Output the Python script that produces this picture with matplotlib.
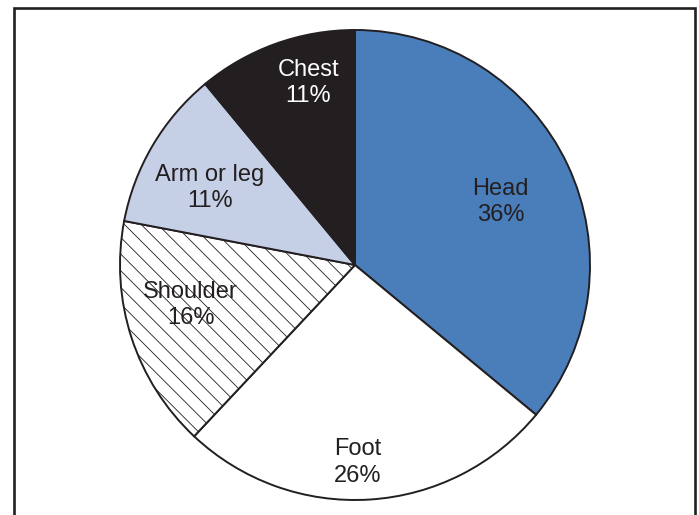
import numpy as np
import matplotlib
matplotlib.use("Agg")
import matplotlib.pyplot as plt
from matplotlib.patches import Rectangle

# datos del grafico (sentido horario desde arriba)
partes = ["Head", "Foot", "Shoulder", "Arm or leg", "Chest"]
porcentajes = [36, 26, 16, 11, 11]

colores = ["#4a7ebb", "#ffffff", "#ffffff", "#c5cfe6", "#231f20"]
tramas = [None, None, "\\\\", None, None]
color_texto = ["#231f20", "#231f20", "#231f20", "#231f20", "#ffffff"]
# ubicacion de las etiquetas: (angulo en grados, distancia al centro)
pos_etiquetas = [(23.5, 0.676), (-89.3, 0.84), (193.7, 0.72), (152, 0.70), (104.4, 0.80)]

plt.rcParams["font.family"] = ["Liberation Sans", "DejaVu Sans"]
plt.rcParams["hatch.linewidth"] = 0.6
plt.rcParams["hatch.color"] = "#231f20"

fig = plt.figure(figsize=(6.99, 5.15), dpi=100)
ax = fig.add_axes([120 / 699, 15 / 515, 470 / 699, 470 / 515])

cunas, _ = ax.pie(porcentajes, colors=colores, startangle=90, counterclock=False,
                  wedgeprops=dict(edgecolor="#231f20", linewidth=1.4))
for cuna, trama in zip(cunas, tramas):
    if trama:
        cuna.set_hatch(trama)

for parte, pct, (ang, dist), col in zip(partes, porcentajes, pos_etiquetas, color_texto):
    x = dist * np.cos(np.radians(ang))
    y = dist * np.sin(np.radians(ang))
    ax.text(x, y, f"{parte}\n{pct}%", ha="center", va="center", fontsize=17,
            color=col, linespacing=1.25)

ax.set_xlim(-1, 1)
ax.set_ylim(-1, 1)
ax.set_aspect("equal")
ax.axis("off")

# marco alrededor de la figura (el borde inferior queda fuera)
marco = Rectangle((13.5 / 699, -0.1), (695 - 13.5) / 699, 1.1 - 7.5 / 515,
                  transform=fig.transFigure, fill=False, edgecolor="#231f20",
                  linewidth=1.9)
fig.patches.append(marco)

fig.savefig("out.png", dpi=100)
